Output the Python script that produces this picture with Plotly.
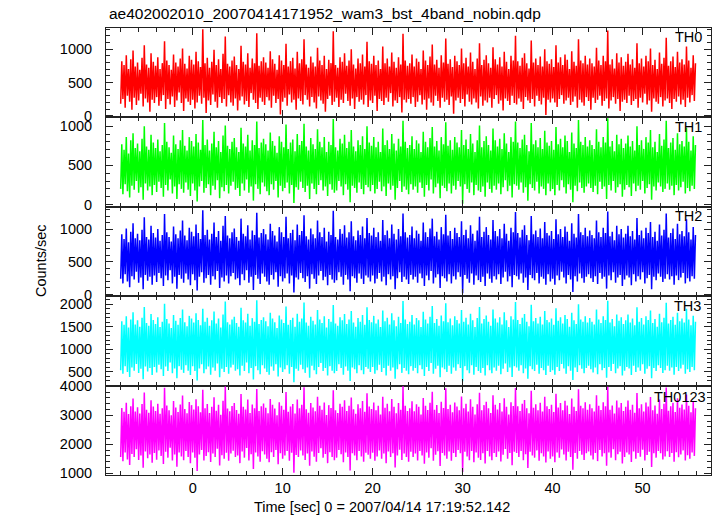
import plotly.graph_objects as go
from plotly.subplots import make_subplots

# time bins (sec): 0.25 s bins from -8 to 56; for each bin the lowest and
# highest rate reached by the light curve inside that bin
t_start, t_step, n_bins = -8.0, 0.25, 256
time = [t_start + t_step * i for i in range(n_bins)]

th0_high = [
    820, 760, 910, 700, 850, 980, 740, 800, 690, 870, 1060, 770, 720, 940, 810, 750,
    880, 700, 790, 1120, 830, 760, 690, 920, 800, 740, 860, 1010, 780, 710, 900, 840,
    770, 960, 820, 730, 1300, 790, 870, 720, 810, 990, 760, 850, 700, 930, 1190, 780,
    740, 830, 890, 760, 700, 1050, 810, 770, 940, 720, 860, 790, 1240, 750, 820, 880,
    800, 720, 970, 850, 780, 690, 910, 830, 760, 1080, 740, 820, 870, 710, 960, 790,
    850, 1150, 770, 720, 890, 800, 740, 1020, 830, 760, 900, 700, 840, 790, 1270, 760,
    720, 880, 810, 940, 750, 830, 1000, 770, 710, 860, 790, 920, 740, 1110, 820, 780,
    900, 760, 830, 700, 1040, 790, 860, 740, 950, 810, 720, 880, 770, 1230, 830, 750,
    790, 920, 740, 860, 810, 700, 980, 830, 760, 890, 1070, 770, 840, 720, 910, 800,
    1160, 780, 850, 730, 900, 820, 760, 1010, 790, 870, 740, 950, 810, 700, 860, 1090,
    760, 840, 910, 790, 720, 1030, 850, 770, 880, 740, 960, 810, 700, 900, 830, 1200,
    820, 750, 870, 940, 790, 710, 1130, 800, 860, 760, 890, 740, 1000, 820, 780, 850,
    730, 1060, 800, 880, 760, 920, 840, 700, 970, 810, 750, 1150, 830, 790, 900, 770,
    860, 790, 740, 1020, 830, 760, 900, 820, 1280, 770, 850, 710, 940, 800, 880, 750,
    810, 930, 770, 850, 720, 1090, 790, 860, 740, 900, 820, 1010, 760, 840, 700, 950,
    780, 870, 1170, 750, 820, 890, 730, 960, 800, 850, 770, 1040, 830, 720, 910, 790,
]
th0_low = [
    180, 250, 120, 300, 210, 90, 270, 160, 230, 330, 140, 260, 200, 60, 240, 190,
    280, 150, 220, 310, 100, 250, 170, 290, 130, 230, 350, 190, 70, 260, 210, 160,
    240, 110, 200, 300, 180, 270, 40, 230, 160, 320, 210, 120, 280, 190, 250, 140,
    310, 200, 150, 260, 80, 230, 290, 170, 220, 130, 340, 240, 190, 100, 270, 210,
    160, 280, 230, 120, 300, 190, 250, 20, 210, 270, 150, 320, 200, 240, 90, 260,
    220, 170, 310, 240, 140, 280, 200, 110, 290, 230, 180, 60, 250, 300, 160, 210,
    270, 130, 240, 190, 330, 220, 150, 260, 100, 280, 210, 240, 170, 310, 130, 230,
    190, 300, 70, 250, 220, 160, 270, 210, 340, 140, 230, 190, 280, 50, 240, 200,
    250, 180, 280, 130, 210, 310, 170, 240, 90, 260, 200, 150, 300, 220, 120, 270,
    210, 240, 160, 290, 30, 230, 270, 190, 250, 140, 320, 210, 170, 260, 200, 110,
    290, 150, 230, 200, 270, 120, 250, 310, 180, 230, 80, 260, 220, 160, 300, 190,
    170, 260, 210, 100, 280, 230, 190, 250, 140, 300, 220, 170, 270, 10, 240, 200,
    260, 200, 130, 250, 310, 180, 230, 270, 160, 210, 290, 120, 240, 200, 150, 280,
    220, 90, 270, 190, 240, 300, 150, 220, 260, 110, 230, 280, 180, 250, 70, 210,
    240, 190, 300, 160, 220, 250, 120, 270, 200, 330, 170, 230, 60, 260, 210, 180,
    280, 140, 230, 260, 190, 100, 250, 210, 290, 170, 240, 130, 270, 200, 310, 220,
]

th1_high = [
    770, 700, 860, 650, 820, 910, 720, 780, 680, 840, 1000, 740, 700, 890, 790, 720,
    830, 680, 760, 1040, 800, 730, 660, 880, 770, 710, 820, 950, 750, 690, 860, 810,
    740, 900, 790, 700, 1080, 760, 830, 690, 780, 930, 730, 810, 670, 880, 1010, 750,
    710, 800, 850, 730, 670, 980, 780, 740, 890, 690, 820, 760, 1060, 720, 790, 840,
    770, 690, 920, 810, 750, 660, 870, 800, 730, 1020, 710, 790, 830, 680, 900, 760,
    810, 1030, 740, 690, 850, 770, 710, 960, 800, 730, 860, 670, 800, 760, 1090, 730,
    690, 840, 780, 890, 720, 800, 950, 740, 680, 820, 760, 870, 710, 1000, 790, 750,
    860, 730, 800, 670, 970, 760, 820, 710, 900, 780, 690, 840, 740, 1070, 800, 720,
    760, 870, 710, 820, 780, 670, 930, 800, 730, 850, 990, 740, 810, 690, 860, 770,
    1050, 750, 820, 700, 860, 790, 730, 950, 760, 830, 710, 900, 780, 670, 820, 1010,
    730, 810, 870, 760, 690, 970, 820, 740, 840, 710, 910, 780, 670, 860, 800, 1060,
    790, 720, 830, 890, 760, 680, 1040, 770, 820, 730, 850, 710, 940, 790, 750, 810,
    700, 990, 770, 840, 730, 880, 810, 670, 920, 780, 720, 1080, 800, 760, 860, 740,
    820, 760, 710, 960, 800, 730, 860, 790, 1100, 740, 810, 680, 890, 770, 840, 720,
    780, 880, 740, 810, 690, 1000, 760, 820, 710, 860, 790, 950, 730, 800, 670, 900,
    750, 830, 1070, 720, 790, 850, 700, 910, 770, 810, 740, 980, 800, 690, 870, 760,
]
th1_low = [
    200, 130, 260, 170, 90, 240, 190, 300, 150, 220, 60, 270, 180, 230, 120, 250,
    160, 290, 210, 100, 250, 180, 320, 140, 230, 70, 260, 200, 150, 280, 190, 110,
    270, 180, 40, 230, 300, 150, 210, 260, 120, 240, 190, 310, 80, 220, 170, 250,
    140, 240, 290, 190, 210, 110, 270, 180, 320, 150, 230, 50, 260, 200, 130, 280,
    230, 170, 120, 260, 190, 300, 90, 240, 170, 210, 280, 140, 250, 20, 220, 190,
    290, 210, 160, 240, 70, 270, 200, 130, 250, 310, 180, 230, 110, 260, 190, 150,
    180, 300, 230, 120, 260, 190, 30, 240, 210, 150, 280, 200, 130, 250, 220, 170,
    250, 140, 200, 290, 170, 230, 110, 270, 190, 240, 60, 210, 300, 160, 230, 190,
    130, 260, 190, 230, 150, 280, 210, 100, 250, 180, 320, 140, 220, 270, 80, 240,
    210, 170, 270, 140, 240, 190, 300, 230, 10, 260, 200, 150, 280, 120, 250, 180,
    160, 230, 100, 280, 200, 150, 240, 190, 270, 130, 220, 310, 170, 240, 90, 260,
    240, 190, 280, 150, 220, 50, 260, 210, 180, 290, 140, 230, 200, 120, 270, 170,
    200, 120, 250, 180, 310, 220, 140, 260, 190, 30, 240, 170, 280, 210, 150, 230,
    270, 210, 160, 240, 130, 290, 200, 230, 70, 250, 180, 300, 150, 220, 260, 100,
    190, 250, 220, 110, 270, 170, 240, 190, 300, 140, 210, 260, 60, 230, 180, 280,
    230, 160, 200, 270, 190, 240, 120, 250, 180, 220, 290, 140, 210, 170, 240, 200,
]

th2_high = [
    920, 850, 1010, 800, 960, 1090, 860, 930, 830, 990, 1180, 880, 840, 1050, 940, 870,
    1000, 820, 910, 1230, 950, 880, 810, 1040, 920, 860, 980, 1130, 900, 830, 1020, 960,
    890, 1070, 940, 850, 1290, 910, 990, 840, 930, 1100, 880, 970, 820, 1050, 1200, 900,
    860, 950, 1010, 880, 820, 1160, 930, 890, 1060, 840, 980, 910, 1250, 870, 940, 1000,
    920, 840, 1080, 970, 900, 810, 1030, 950, 880, 1190, 860, 940, 990, 830, 1070, 910,
    970, 1210, 890, 840, 1010, 920, 860, 1130, 950, 880, 1020, 810, 960, 910, 1280, 880,
    840, 1000, 930, 1060, 870, 950, 1120, 890, 830, 980, 910, 1040, 860, 1170, 940, 900,
    1020, 880, 950, 820, 1140, 910, 980, 860, 1070, 930, 840, 1000, 890, 1240, 950, 870,
    910, 1040, 860, 980, 930, 820, 1100, 950, 880, 1010, 1160, 890, 960, 840, 1030, 920,
    1220, 900, 970, 850, 1020, 940, 880, 1120, 910, 990, 860, 1060, 930, 820, 980, 1190,
    880, 960, 1030, 910, 840, 1140, 970, 890, 1000, 860, 1080, 930, 820, 1020, 950, 1260,
    940, 870, 990, 1060, 910, 830, 1200, 920, 980, 880, 1010, 860, 1110, 940, 900, 970,
    850, 1150, 920, 1000, 880, 1040, 960, 820, 1090, 930, 870, 1230, 950, 910, 1020, 890,
    980, 910, 860, 1130, 950, 880, 1020, 940, 1270, 890, 960, 830, 1050, 920, 1000, 870,
    930, 1050, 890, 970, 840, 1170, 910, 980, 860, 1020, 940, 1110, 880, 960, 820, 1070,
    900, 990, 1240, 870, 940, 1010, 850, 1080, 920, 970, 890, 1150, 950, 840, 1030, 910,
]
th2_low = [
    240, 170, 310, 200, 110, 280, 230, 350, 180, 260, 80, 300, 210, 270, 150, 290,
    190, 330, 250, 130, 290, 220, 370, 170, 270, 90, 300, 240, 180, 320, 230, 140,
    310, 220, 60, 270, 340, 180, 250, 300, 150, 280, 230, 360, 100, 260, 200, 290,
    170, 280, 330, 230, 250, 140, 310, 220, 370, 180, 270, 70, 300, 240, 160, 320,
    270, 200, 150, 300, 230, 340, 120, 280, 200, 250, 320, 170, 290, 30, 260, 230,
    330, 250, 190, 280, 90, 310, 240, 160, 290, 360, 220, 270, 140, 300, 230, 180,
    220, 340, 270, 150, 300, 230, 50, 280, 250, 180, 320, 240, 160, 290, 260, 200,
    290, 170, 240, 330, 200, 270, 140, 310, 230, 280, 80, 250, 340, 190, 270, 230,
    160, 300, 230, 270, 180, 320, 250, 130, 290, 220, 360, 170, 260, 310, 100, 280,
    250, 200, 310, 170, 280, 230, 340, 270, 20, 300, 240, 180, 320, 150, 290, 220,
    190, 270, 130, 320, 240, 180, 280, 230, 310, 160, 260, 350, 200, 280, 110, 300,
    280, 230, 320, 180, 260, 70, 300, 250, 220, 330, 170, 270, 240, 150, 310, 200,
    240, 150, 290, 220, 350, 260, 170, 300, 230, 40, 280, 200, 320, 250, 180, 270,
    310, 250, 190, 280, 160, 330, 240, 270, 90, 290, 220, 340, 180, 260, 300, 130,
    230, 290, 260, 140, 310, 200, 280, 230, 340, 170, 250, 300, 80, 270, 220, 320,
    270, 190, 240, 310, 230, 280, 150, 290, 220, 260, 330, 170, 250, 200, 280, 240,
]

th3_high = [
    1620, 1540, 1730, 1480, 1660, 1820, 1550, 1640, 1500, 1700, 1940, 1580, 1520, 1780, 1650, 1560,
    1710, 1490, 1610, 2010, 1670, 1570, 1470, 1760, 1630, 1540, 1690, 1880, 1600, 1510, 1740, 1680,
    1590, 1800, 1650, 1530, 1900, 1610, 1700, 1520, 1640, 1840, 1570, 1680, 1480, 1770, 2060, 1600,
    1550, 1660, 1720, 1580, 1500, 1920, 1640, 1590, 1790, 1520, 1690, 1610, 2090, 1560, 1650, 1710,
    1620, 1510, 1810, 1680, 1600, 1470, 1750, 1660, 1580, 1950, 1540, 1650, 1700, 1500, 1790, 1610,
    1680, 2040, 1590, 1520, 1720, 1630, 1550, 1870, 1660, 1580, 1730, 1480, 1670, 1610, 1980, 1570,
    1520, 1710, 1640, 1780, 1560, 1660, 1850, 1590, 1500, 1690, 1610, 1760, 1540, 1930, 1650, 1600,
    1740, 1570, 1660, 1490, 1860, 1620, 1700, 1550, 1800, 1640, 1510, 1720, 1580, 2070, 1660, 1560,
    1610, 1760, 1550, 1690, 1640, 1490, 1830, 1660, 1570, 1720, 1960, 1580, 1670, 1520, 1750, 1620,
    2020, 1600, 1680, 1530, 1730, 1650, 1570, 1870, 1610, 1700, 1550, 1790, 1640, 1490, 1690, 1940,
    1570, 1670, 1750, 1610, 1520, 1880, 1680, 1590, 1710, 1550, 1820, 1640, 1490, 1730, 1660, 2050,
    1650, 1560, 1700, 1780, 1610, 1510, 1990, 1620, 1690, 1570, 1720, 1550, 1850, 1650, 1600, 1680,
    1540, 1910, 1630, 1710, 1570, 1760, 1670, 1500, 1810, 1640, 1560, 2000, 1660, 1610, 1730, 1590,
    1690, 1610, 1550, 1880, 1660, 1580, 1730, 1650, 2080, 1590, 1670, 1510, 1770, 1630, 1710, 1560,
    1640, 1770, 1590, 1680, 1530, 1930, 1610, 1690, 1550, 1730, 1650, 1860, 1580, 1670, 1500, 1790,
    1600, 1700, 2030, 1570, 1650, 1720, 1540, 1810, 1620, 1680, 1590, 1900, 1660, 1530, 1740, 1610,
]
th3_low = [
    530, 450, 620, 490, 380, 590, 520, 670, 470, 560, 330, 610, 500, 580, 420, 600,
    480, 650, 550, 400, 610, 510, 700, 460, 570, 350, 620, 540, 470, 640, 520, 420,
    620, 510, 300, 570, 660, 460, 550, 610, 430, 590, 520, 680, 370, 560, 490, 600,
    450, 590, 650, 520, 550, 410, 630, 510, 700, 460, 580, 320, 620, 530, 440, 640,
    570, 490, 430, 610, 520, 660, 390, 590, 490, 550, 640, 450, 600, 260, 560, 520,
    650, 550, 470, 590, 360, 630, 530, 440, 600, 690, 510, 580, 410, 620, 520, 460,
    510, 660, 580, 430, 610, 520, 290, 590, 550, 460, 640, 530, 440, 600, 560, 490,
    600, 450, 530, 650, 490, 580, 410, 630, 520, 590, 340, 550, 660, 470, 580, 520,
    440, 620, 520, 580, 460, 640, 550, 400, 600, 510, 690, 450, 560, 630, 370, 590,
    550, 490, 630, 450, 590, 520, 660, 580, 280, 620, 530, 460, 640, 430, 600, 510,
    470, 580, 410, 640, 530, 460, 590, 520, 630, 440, 560, 680, 490, 590, 380, 620,
    590, 520, 640, 460, 570, 340, 620, 550, 510, 650, 450, 580, 530, 420, 630, 490,
    530, 430, 600, 510, 670, 570, 450, 620, 520, 310, 590, 490, 640, 560, 460, 580,
    630, 550, 480, 590, 440, 660, 530, 580, 360, 600, 510, 670, 460, 570, 620, 410,
    520, 600, 570, 420, 630, 490, 590, 520, 660, 450, 560, 620, 350, 580, 510, 640,
    580, 470, 530, 630, 520, 590, 430, 600, 510, 570, 650, 450, 550, 490, 600, 530,
]

th0123_high = [
    3250, 3120, 3430, 3040, 3310, 3580, 3130, 3280, 3060, 3390, 3790, 3190, 3090, 3520, 3300, 3150,
    3400, 3050, 3240, 3950, 3340, 3170, 3000, 3490, 3270, 3110, 3370, 3680, 3220, 3070, 3460, 3350,
    3200, 3550, 3310, 3100, 3880, 3240, 3390, 3080, 3290, 3620, 3160, 3360, 3020, 3500, 3990, 3230,
    3140, 3320, 3420, 3180, 3050, 3730, 3290, 3200, 3540, 3080, 3370, 3240, 3910, 3150, 3310, 3410,
    3260, 3070, 3560, 3360, 3230, 3000, 3450, 3330, 3190, 3800, 3120, 3300, 3390, 3060, 3540, 3240,
    3360, 3970, 3210, 3090, 3420, 3270, 3140, 3640, 3330, 3190, 3440, 3010, 3350, 3250, 3860, 3170,
    3080, 3400, 3290, 3520, 3150, 3330, 3610, 3210, 3050, 3380, 3240, 3490, 3120, 3760, 3300, 3220,
    3440, 3170, 3330, 3030, 3640, 3260, 3400, 3140, 3560, 3290, 3070, 3420, 3190, 4000, 3330, 3150,
    3240, 3480, 3140, 3380, 3290, 3030, 3600, 3330, 3180, 3430, 3810, 3190, 3350, 3080, 3470, 3250,
    3930, 3220, 3360, 3100, 3440, 3300, 3170, 3650, 3240, 3400, 3130, 3550, 3290, 3030, 3380, 3780,
    3170, 3350, 3470, 3240, 3080, 3690, 3360, 3200, 3420, 3130, 3590, 3290, 3030, 3450, 3320, 3940,
    3310, 3150, 3400, 3530, 3240, 3070, 3850, 3260, 3380, 3170, 3430, 3130, 3640, 3310, 3220, 3360,
    3110, 3740, 3270, 3420, 3170, 3500, 3340, 3040, 3580, 3290, 3150, 3900, 3330, 3240, 3450, 3190,
    3380, 3240, 3130, 3690, 3330, 3180, 3450, 3310, 3980, 3190, 3340, 3060, 3510, 3270, 3420, 3150,
    3290, 3510, 3190, 3360, 3090, 3770, 3240, 3380, 3130, 3440, 3300, 3630, 3170, 3340, 3050, 3540,
    3220, 3400, 3960, 3160, 3310, 3430, 3110, 3590, 3260, 3370, 3200, 3720, 3330, 3100, 3480, 3240,
]
th0123_low = [
    1560, 1420, 1720, 1480, 1290, 1670, 1560, 1830, 1460, 1610, 1190, 1750, 1520, 1650, 1360, 1700,
    1470, 1790, 1600, 1320, 1740, 1540, 1880, 1440, 1650, 1230, 1720, 1580, 1450, 1770, 1560, 1350,
    1720, 1540, 1080, 1650, 1800, 1440, 1600, 1730, 1390, 1680, 1560, 1850, 1270, 1620, 1500, 1710,
    1430, 1680, 1780, 1560, 1610, 1350, 1750, 1540, 1870, 1440, 1660, 1150, 1720, 1580, 1400, 1760,
    1650, 1500, 1380, 1730, 1560, 1800, 1310, 1690, 1500, 1610, 1770, 1430, 1710, 1020, 1630, 1560,
    1790, 1610, 1460, 1680, 1260, 1750, 1570, 1400, 1700, 1860, 1540, 1670, 1350, 1730, 1560, 1450,
    1540, 1800, 1660, 1380, 1720, 1560, 1100, 1690, 1610, 1450, 1770, 1580, 1400, 1710, 1640, 1500,
    1710, 1430, 1580, 1790, 1500, 1680, 1350, 1750, 1560, 1690, 1200, 1610, 1810, 1460, 1680, 1560,
    1400, 1740, 1560, 1680, 1440, 1770, 1610, 1330, 1720, 1540, 1860, 1430, 1640, 1760, 1250, 1700,
    1610, 1500, 1750, 1430, 1700, 1560, 1800, 1690, 1040, 1740, 1580, 1450, 1770, 1380, 1720, 1540,
    1460, 1690, 1340, 1770, 1580, 1450, 1700, 1560, 1750, 1410, 1640, 1840, 1500, 1700, 1280, 1740,
    1700, 1560, 1770, 1450, 1660, 1180, 1740, 1610, 1540, 1790, 1430, 1690, 1580, 1370, 1750, 1500,
    1580, 1380, 1720, 1540, 1820, 1650, 1440, 1740, 1560, 1120, 1700, 1500, 1770, 1640, 1460, 1690,
    1750, 1610, 1480, 1700, 1420, 1800, 1580, 1690, 1260, 1720, 1540, 1830, 1450, 1660, 1740, 1340,
    1560, 1720, 1650, 1390, 1750, 1500, 1700, 1570, 1810, 1440, 1630, 1740, 1220, 1690, 1540, 1770,
    1690, 1480, 1580, 1760, 1560, 1700, 1400, 1730, 1550, 1650, 1790, 1440, 1620, 1500, 1720, 1600,
]

band_names = ["TH0", "TH1", "TH2", "TH3", "TH0123"]
band_low = [th0_low, th1_low, th2_low, th3_low, th0123_low]
band_high = [th0_high, th1_high, th2_high, th3_high, th0123_high]
band_colors = ["#ff0000", "#00ff00", "#0000ff", "#00ffff", "#ff00ff"]
y_ranges = [[-25, 1318], [-29, 1112], [-26, 1341], [186, 2179], [941, 4024]]
y_major = [500, 500, 500, 500, 1000]
y_minor = [100, 100, 100, 100, 200]
x_range = [-9.63, 57.6]

title_text = "ae402002010_20070414171952_wam3_bst_4band_nobin.qdp"
x_title = "Time [sec] 0 = 2007/04/14 17:19:52.142"
y_title = "Counts/sec"

W, H = 717, 516
ML, MR, MT, MB = 106, 6, 28, 41
PW, PH = W - ML - MR, H - MT - MB

FONT = "Liberation Sans, Arial, Helvetica, sans-serif"

fig = make_subplots(rows=5, cols=1, shared_xaxes=True, vertical_spacing=0)

for i, name in enumerate(band_names):
    xs, ys = [], []
    for t, lo, hi in zip(time, band_low[i], band_high[i]):
        xs += [t, t + t_step / 2]
        ys += [lo, hi]
    fig.add_trace(
        go.Scatter(x=xs, y=ys, mode="lines", name=name,
                   line=dict(color=band_colors[i], width=1.5), showlegend=False,
                   hoverinfo="skip"),
        row=i + 1, col=1,
    )

for i in range(5):
    r = i + 1
    lo = 1 - (i + 1) / 5
    hi = 1 - i / 5
    fig.update_yaxes(
        row=r, col=1,
        domain=[lo, hi],
        range=y_ranges[i],
        dtick=y_major[i], tick0=0,
        ticks="inside", ticklen=7, tickwidth=1, tickcolor="#222",
        minor=dict(dtick=y_minor[i], tick0=0, ticks="inside", ticklen=4,
                   tickcolor="#222", showgrid=False),
        mirror="allticks", showline=True, linecolor="#222", linewidth=1,
        showgrid=False, zeroline=False, automargin=False,
        tickfont=dict(family=FONT, size=14.5, color="#000"),
        ticklabelstandoff=10,
    )
    fig.update_xaxes(
        row=r, col=1,
        range=x_range,
        dtick=10, tick0=0,
        ticks="inside", ticklen=7, tickwidth=1, tickcolor="#222",
        minor=dict(dtick=2, tick0=0, ticks="inside", ticklen=4,
                   tickcolor="#222", showgrid=False),
        mirror="allticks", showline=True, linecolor="#222", linewidth=1,
        showgrid=False, zeroline=False, automargin=False,
        showticklabels=(r == 5),
        tickfont=dict(family=FONT, size=14.5, color="#000"),
        ticklabelstandoff=0,
    )


def px_x(px):
    return (px - ML) / PW


def px_y(py):
    return (H - MB - py) / PH


annotations = [
    dict(text=title_text, x=px_x(107), y=px_y(14), xanchor="left", yanchor="middle",
         font=dict(family=FONT, size=15.5, color="#000")),
    dict(text=x_title, x=px_x(382), y=px_y(507), xanchor="center", yanchor="middle",
         font=dict(family=FONT, size=14.5, color="#000")),
    dict(text=y_title, x=px_x(41), y=px_y(261), xanchor="center", yanchor="middle",
         textangle=-90, font=dict(family=FONT, size=14.5, color="#000")),
]
label_pos = [(704, 37), (704, 127), (704, 216), (703, 306), (708, 397)]
for name, (lx, ly) in zip(band_names, label_pos):
    annotations.append(dict(text=name, x=px_x(lx), y=px_y(ly), xanchor="right",
                            yanchor="middle",
                            font=dict(family=FONT, size=14.5, color="#000")))
for a in annotations:
    a.update(xref="paper", yref="paper", showarrow=False)

fig.update_layout(
    width=W, height=H,
    margin=dict(l=ML, r=MR, t=MT, b=MB, autoexpand=False),
    paper_bgcolor="white", plot_bgcolor="white",
    annotations=annotations,
    showlegend=False,
)

fig.write_html("out.html",
               config={"displayModeBar": False, "staticPlot": True},
               post_script="document.body.style.margin='0';"
                           "document.body.style.overflow='hidden';")
